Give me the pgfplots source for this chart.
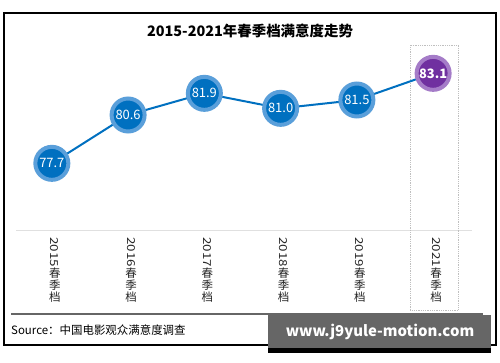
\documentclass[border=0pt]{standalone}
\usepackage{pgfplots}
\pgfplotsset{compat=1.18}
\usepackage{fontspec}
\setmainfont{Noto Sans CJK SC}
\definecolor{mblue}{HTML}{0070C0}
\definecolor{mring}{HTML}{5A9FDA}
\definecolor{mpurple}{HTML}{7030A0}
\definecolor{pring}{HTML}{A57CC8}
\newcommand{\cj}[1]{\rule[-2.2bp]{0pt}{10.3bp}#1}
\newcommand{\lab}[1]{\vbox{\offinterlineskip\halign{\hfil##\hfil\cr\rotatebox{-90}{\scalebox{1.22}[1]{\fontsize{11}{11}\selectfont #1}}\cr\noalign{\kern1bp}\cj{春}\cr\cj{季}\cr\cj{档}\cr}}}
\begin{document}
\begin{tikzpicture}[x=1bp,y=1bp]
\fill[white] (0,0) rectangle (500,362);
\draw[black, line width=1.2bp] (4,17) rectangle (496,349);
\node[font=\fontsize{14.5}{15}\selectfont\bfseries] at (250,331) {2015-2021年春季档满意度走势};
\begin{axis}[
  at={(16bp,132bp)}, anchor=south west,
  width=456bp, height=185bp, scale only axis,
  xmin=-0.47, xmax=5.51, ymin=73.7, ymax=84.8,
  axis y line=none, axis x line*=bottom,
  x axis line style={-, draw=black!12, line width=1bp},
  xtick={0,...,5},
  xticklabels={{\lab{2015}},{\lab{2016}},{\lab{2017}},{\lab{2018}},{\lab{2019}},{\lab{2021}}},
  major tick length=0pt,
  xticklabel style={anchor=north, inner sep=0pt, yshift=-7bp, xshift=3bp, font=\fontsize{11.5}{12}\selectfont, text=black!85},
  clip=false,
]
\draw[black!25, densely dotted, line width=0.8bp] (axis cs:4.70,68.9) rectangle (axis cs:5.33,84.8);
\addplot[mblue, line width=2bp, no marks] coordinates {(0,77.7) (1,80.6) (2,81.9) (3,81.0) (4,81.5) (5,83.1)};
\addplot[only marks, mark=*, mark size=16.5bp, mark options={fill=mblue, draw=mring, line width=4bp},
  nodes near coords, point meta=explicit symbolic,
  every node near coord/.append style={anchor=center, text=white, font=\fontsize{13}{13}\selectfont}]
  coordinates {(0,77.7)[77.7] (1,80.6)[80.6] (2,81.9)[81.9] (3,81.0)[81.0] (4,81.5)[81.5]};
\addplot[only marks, mark=*, mark size=16.5bp, mark options={fill=mpurple, draw=pring, line width=4bp},
  nodes near coords, point meta=explicit symbolic,
  every node near coord/.append style={anchor=center, text=white, font=\fontsize{13}{13}\selectfont\bfseries}]
  coordinates {(5,83.1)[83.1]};
\end{axis}
\draw[black!60, line width=1.5bp] (11,48) -- (483,48);
\node[anchor=west, font=\fontsize{11.5}{12}\selectfont, inner sep=0pt] at (11,32) {Source：中国电影观众满意度调查};
\fill[black] (268,9) rectangle (491,14);
\fill[black!60] (268,14) rectangle (491,47);
\node[text=white, font=\fontsize{15}{15}\selectfont\bfseries] at (380,30) {www.j9yule-motion.com};
\end{tikzpicture}
\end{document}
